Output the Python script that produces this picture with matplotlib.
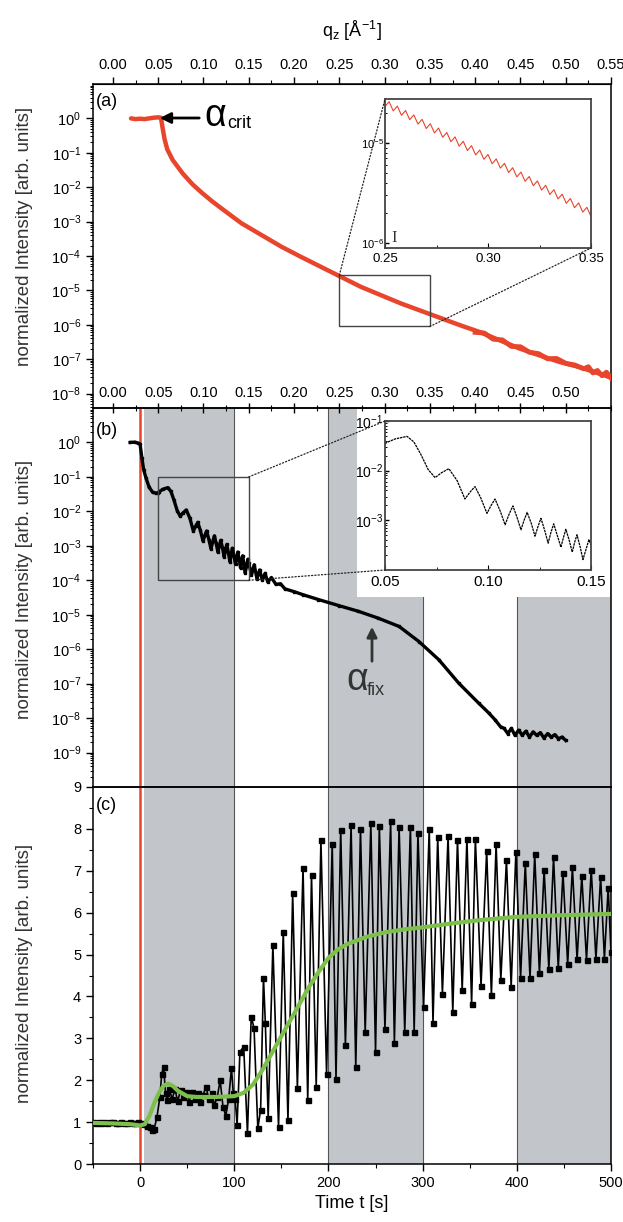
import numpy as np
import matplotlib
matplotlib.use("Agg")
import matplotlib.pyplot as plt
from matplotlib.patches import Rectangle, ConnectionPatch
from matplotlib.ticker import MultipleLocator, LogLocator, NullFormatter, FixedLocator, FixedFormatter

plt.rcParams['font.family'] = ['Liberation Sans', 'DejaVu Sans']
plt.rcParams['mathtext.fontset'] = 'custom'
plt.rcParams['mathtext.rm'] = 'Liberation Sans'
plt.rcParams['mathtext.it'] = 'Liberation Sans:italic'
plt.rcParams['mathtext.default'] = 'regular'

# ---------------- data ----------------
# panel (a): reflectivity vs q_z (log10 of normalized intensity)
qa = [0.020, 0.025, 0.030, 0.035, 0.040, 0.045, 0.050, 0.053, 0.055, 0.057, 0.060, 0.066,
      0.077, 0.088, 0.099, 0.110, 0.120, 0.142, 0.164, 0.186, 0.208, 0.230, 0.252, 0.274,
      0.296, 0.318, 0.350, 0.383, 0.405, 0.427, 0.449, 0.471, 0.493, 0.515, 0.537, 0.548]
la = [0.0, -0.02, -0.01, -0.02, 0.0, 0.02, 0.03, 0.02, -0.30, -0.60, -0.90, -1.21,
      -1.60, -1.92, -2.18, -2.42, -2.62, -3.05, -3.39, -3.73, -4.03, -4.32, -4.61, -4.90,
      -5.14, -5.38, -5.69, -6.01, -6.21, -6.45, -6.69, -6.89, -7.08, -7.23, -7.42, -7.52]
# noisy high-q tail of panel (a)
qa_tail = [0.40, 0.41, 0.42, 0.43, 0.44, 0.45, 0.46, 0.47, 0.48, 0.49, 0.50, 0.51, 0.52,
           0.525, 0.53, 0.535, 0.54, 0.545, 0.55]
la_tail = [-6.22, -6.24, -6.42, -6.44, -6.63, -6.64, -6.80, -6.84, -6.99, -6.98, -7.12,
           -7.17, -7.28, -7.22, -7.40, -7.33, -7.48, -7.38, -7.55]

# panel (a) inset: zig-zag between q = 0.25 and 0.35
qa_ins = [0.250, 0.252, 0.254, 0.256, 0.258, 0.260, 0.262, 0.264, 0.266, 0.268, 0.270,
          0.272, 0.274, 0.276, 0.278, 0.280, 0.282, 0.284, 0.286, 0.288, 0.290, 0.292,
          0.294, 0.296, 0.298, 0.300, 0.302, 0.304, 0.306, 0.308, 0.310, 0.312, 0.314,
          0.316, 0.318, 0.320, 0.322, 0.324, 0.326, 0.328, 0.330, 0.332, 0.334, 0.336,
          0.338, 0.340, 0.342, 0.344, 0.346, 0.348, 0.350]
la_ins = [-4.635, -4.587, -4.679, -4.631, -4.723, -4.675, -4.767, -4.719, -4.811, -4.763,
          -4.855, -4.807, -4.899, -4.851, -4.943, -4.895, -4.987, -4.939, -5.031, -4.983,
          -5.075, -5.027, -5.119, -5.071, -5.163, -5.115, -5.207, -5.159, -5.251, -5.203,
          -5.295, -5.247, -5.339, -5.291, -5.383, -5.335, -5.427, -5.379, -5.471, -5.423,
          -5.515, -5.467, -5.559, -5.511, -5.603, -5.555, -5.647, -5.599, -5.691, -5.643,
          -5.735]

# panel (b): reflectivity vs q_z
qb_low = [0.019, 0.024, 0.028, 0.030, 0.032, 0.034, 0.0365, 0.040, 0.044, 0.048]
lb_low = [0.0, 0.01, -0.02, -0.05, -0.45, -0.80, -1.03, -1.30, -1.45, -1.47]
qb_fr = [0.050, 0.051, 0.055, 0.0607, 0.064, 0.0675, 0.071, 0.0743, 0.0775, 0.081, 0.085,
         0.0888, 0.0915, 0.0937, 0.0965, 0.0995, 0.1015, 0.1034, 0.106, 0.1083, 0.1103,
         0.1121, 0.114, 0.116, 0.1175, 0.119, 0.121, 0.1228, 0.1243, 0.1257, 0.1275, 0.1292,
         0.1305, 0.1319, 0.1336, 0.1354, 0.1366, 0.1378, 0.1394, 0.1409, 0.142, 0.1432,
         0.1447, 0.1461, 0.1476, 0.149, 0.150]
lb_fr = [-1.46, -1.43, -1.36, -1.31, -1.42, -1.68, -1.98, -2.14, -2.04, -1.96, -2.20,
         -2.57, -2.42, -2.32, -2.55, -2.86, -2.70, -2.57, -2.82, -3.09, -2.87,
         -2.71, -2.93, -3.19, -3.00, -2.84, -3.06, -3.32, -3.12, -2.96, -3.20, -3.46,
         -3.25, -3.07, -3.30, -3.54, -3.35, -3.18, -3.40, -3.64, -3.45, -3.29,
         -3.53, -3.79, -3.58, -3.39, -3.50]
qb_high = [0.153, 0.156, 0.159, 0.162, 0.165, 0.168, 0.171, 0.175, 0.180, 0.185, 0.190,
           0.200, 0.210, 0.227, 0.250, 0.271, 0.293, 0.316, 0.338, 0.360, 0.382, 0.404,
           0.415, 0.422, 0.428, 0.432, 0.436, 0.440, 0.444, 0.448, 0.452, 0.456, 0.460,
           0.464, 0.468, 0.472, 0.476, 0.480, 0.484, 0.488, 0.492, 0.496, 0.500]
lb_high = [-3.85, -3.55, -3.95, -3.70, -4.00, -3.80, -4.05, -3.92, -4.12, -4.10, -4.25,
           -4.33, -4.42, -4.56, -4.74, -4.90, -5.10, -5.34, -5.78, -6.31, -6.99, -7.57,
           -7.85, -8.05, -8.25, -8.30, -8.45, -8.30, -8.50, -8.35, -8.50, -8.38, -8.55,
           -8.40, -8.50, -8.42, -8.58, -8.45, -8.55, -8.48, -8.60, -8.55, -8.65]

# panel (c): intensity at fixed angle vs time
t_before = [-50, -47, -44, -41, -38, -35, -32, -29, -26, -23, -20, -17, -14, -11, -8, -5, -2]
v_before = [1.00, 0.99, 1.01, 0.98, 1.00, 0.99, 1.00, 1.01, 0.98, 0.99, 1.00, 0.98, 0.99,
            1.00, 0.97, 0.99, 1.00]
t_start = [1, 4, 7, 10, 13, 15, 18, 21, 23, 25, 27, 29, 31, 34, 37, 40, 43, 46, 49, 52, 55,
           58, 61, 64, 67, 70, 73, 76, 79, 82, 85, 88, 91, 94, 97, 99, 101]
v_start = [0.98, 0.95, 0.90, 0.88, 0.80, 0.84, 1.13, 1.60, 2.16, 2.31, 1.69, 1.53, 1.80,
           1.55, 1.78, 1.50, 1.77, 1.60, 1.72, 1.49, 1.73, 1.55, 1.70, 1.49, 1.65, 1.85,
           1.55, 1.70, 1.41, 1.60, 2.00, 1.37, 1.15, 1.55, 2.28, 1.69, 1.54]
t_osc = [103, 106, 110, 114, 118, 121, 125, 128, 131, 133, 136, 141, 147, 152, 157, 162, 167,
         173, 178, 182, 187, 192, 198, 204, 208, 213, 218, 224, 229, 234, 239, 245, 250, 254,
         260, 266, 270, 275, 281, 287, 291, 295, 301, 307, 311, 316, 321, 327, 332, 337, 342,
         347, 352, 356, 362, 368, 373, 378, 383, 389, 394, 399, 404, 409, 414, 419, 424, 429,
         434, 439, 444, 449, 454, 459, 464, 469, 474, 479, 484, 489, 493, 497, 500]
v_osc = [0.93, 2.68, 2.80, 0.73, 3.52, 3.24, 0.85, 1.30, 4.45, 3.36, 1.11, 5.23, 0.88, 5.55,
         1.05, 6.46, 1.82, 7.06, 1.53, 6.90, 1.85, 7.73, 2.16, 7.64, 2.04, 7.97, 2.84, 8.09,
         2.32, 8.00, 3.14, 8.13, 2.68, 8.07, 3.22, 8.18, 2.90, 8.05, 3.16, 8.05, 3.16, 7.90,
         3.75, 8.00, 3.37, 7.80, 4.07, 7.83, 3.62, 7.73, 4.15, 7.77, 3.83, 7.76, 4.26, 7.48,
         4.03, 7.64, 4.39, 7.26, 4.23, 7.45, 4.45, 7.18, 4.43, 7.40, 4.55, 7.03, 4.65, 7.32,
         4.67, 6.95, 4.77, 7.08, 4.89, 6.87, 4.88, 7.03, 4.90, 6.85, 4.90, 6.60, 5.06]
t_fit = [-50, -30, -10, 0, 5, 10, 15, 20, 25, 30, 35, 40, 50, 60, 80, 100, 110, 120, 130,
         140, 150, 160, 170, 180, 190, 200, 210, 220, 240, 260, 280, 300, 330, 360, 400,
         450, 500]
v_fit = [0.98, 0.97, 0.95, 0.92, 0.95, 1.15, 1.45, 1.70, 1.87, 1.92, 1.86, 1.75, 1.62, 1.60,
         1.60, 1.62, 1.70, 1.90, 2.25, 2.65, 3.05, 3.45, 3.85, 4.25, 4.60, 4.92, 5.12, 5.25,
         5.42, 5.53, 5.60, 5.65, 5.74, 5.82, 5.90, 5.94, 5.97]

bands = [(4, 100), (200, 300), (400, 500)]
band_lines = [100, 200, 300, 400, 500]
q_ticks = [0.00, 0.05, 0.10, 0.15, 0.20, 0.25, 0.30, 0.35, 0.40, 0.45, 0.50, 0.55]

# ---------------- layout ----------------
W, H = 623, 1222
fig = plt.figure(figsize=(W / 100, H / 100), dpi=100)

def box(l, t, r, b):
    return [l / W, 1 - b / H, (r - l) / W, (b - t) / H]

L, R = 93, 611
YA0, YAB, YBC, YC1 = 84, 408, 787, 1164
QMIN, QMAX = -0.022, 0.55
RED = '#e8452c'
GRAY = '#c2c6ca'
GREEN = '#7cbf4a'
TS = 10.5

# background axes for time bands spanning (b) and (c)
ax_bg = fig.add_axes(box(L, YAB, R, YC1))
ax_bg.set_xlim(-50, 500)
ax_bg.set_ylim(0, 1)
ax_bg.axis('off')
for s, e in bands:
    ax_bg.axvspan(s, e, color=GRAY, lw=0, zorder=1)
for x in band_lines:
    ax_bg.axvline(x, color='#555555', lw=0.8, zorder=2)
ax_bg.axvline(0, color=RED, lw=1.8, zorder=3)
ax_bg.add_patch(Rectangle((357 / W, 1 - 597 / H), (610 - 357) / W, (597 - 409) / H,
                          transform=fig.transFigure, facecolor='white', edgecolor='none',
                          zorder=5))

def log_y(ax, lo, hi, labeled):
    ax.set_yscale('log')
    ax.set_ylim(lo, hi)
    ax.yaxis.set_major_locator(FixedLocator([10.0 ** k for k in labeled]))
    ax.yaxis.set_minor_locator(LogLocator(base=10, subs=np.arange(2, 10), numticks=50))
    ax.yaxis.set_minor_formatter(NullFormatter())
    ax.tick_params(axis='y', which='major', direction='out', length=5, width=1, labelsize=TS)
    ax.tick_params(axis='y', which='minor', direction='out', length=2.5, width=0.7)

# ---------------- panel (a) ----------------
ax_a = fig.add_axes(box(L, YA0, R, YAB))
ax_a.set_xlim(QMIN, QMAX)
log_y(ax_a, 10 ** -8.42, 10 ** 1, range(0, -9, -1))
ax_a.plot(qa, 10 ** np.array(la), color=RED, lw=3.2, solid_capstyle='round', zorder=3)
ax_a.plot(qa_tail, 10 ** np.array(la_tail), color=RED, lw=3.5, zorder=3)
ax_a.xaxis.set_major_locator(FixedLocator(q_ticks[:-1]))
ax_a.xaxis.set_major_formatter(FixedFormatter([f'{v:.2f}' for v in q_ticks[:-1]]))
ax_a.xaxis.set_minor_locator(MultipleLocator(0.025))
ax_a.tick_params(axis='x', which='major', direction='inout', length=7, width=1,
                 labelsize=TS, pad=-19)
ax_a.tick_params(axis='x', which='minor', direction='inout', length=4, width=0.8)
sec = ax_a.secondary_xaxis('top')
sec.xaxis.set_major_locator(FixedLocator(q_ticks))
sec.xaxis.set_major_formatter(FixedFormatter([f'{v:.2f}' for v in q_ticks]))
sec.xaxis.set_minor_locator(MultipleLocator(0.025))
sec.tick_params(axis='x', which='major', direction='out', length=5, width=1, labelsize=TS)
sec.tick_params(axis='x', which='minor', direction='out', length=3, width=0.8)
sec.set_xlabel(r'q$_z$ [Å$^{-1}$]', fontsize=13, labelpad=15)
ax_a.text(0.005, 0.945, '(a)', transform=ax_a.transAxes, fontsize=13, va='center')
ax_a.annotate('', xy=(157 / W, 1 - 118 / H), xytext=(202 / W, 1 - 118 / H),
              xycoords='figure fraction', textcoords='figure fraction',
              arrowprops=dict(arrowstyle='-|>', color='black', lw=2, mutation_scale=16))
fig.text(215 / W, 1 - 116 / H, 'α', fontsize=27, ha='center', va='center')
fig.text(227 / W, 1 - 123 / H, 'crit', fontsize=13, ha='left', va='center')

# inset (a)
ax_ia = fig.add_axes(box(385, 99, 591, 248))
ax_ia.set_xlim(0.25, 0.35)
log_y(ax_ia, 10 ** -6.05, 10 ** -4.56, [-5, -6])
ax_ia.plot(qa_ins, 10 ** np.array(la_ins), color=RED, lw=0.8)
ax_ia.xaxis.set_major_locator(FixedLocator([0.25, 0.30, 0.35]))
ax_ia.xaxis.set_major_formatter(FixedFormatter(['0.25', '0.30', '0.35']))
ax_ia.xaxis.set_minor_locator(MultipleLocator(0.025))
ax_ia.tick_params(which='both', direction='in', labelsize=9.5)
ax_ia.tick_params(axis='y', which='major', length=3, labelsize=8, pad=1)
ax_ia.tick_params(axis='y', which='minor', length=1.5)
for sp in ax_ia.spines.values():
    sp.set_color('#444444'); sp.set_linewidth(1.3)
ax_ia.text(0.253, 10 ** -5.95, 'I', family='Liberation Serif', fontsize=12,
           ha='left', va='center', color='#333333')
ax_a.add_patch(Rectangle((0.25, 10 ** -6.05), 0.10, 10 ** -4.56 - 10 ** -6.05, fill=False,
                         edgecolor='#444444', lw=1, zorder=4))
for xa_, ya_, xb_, yb_ in [(0.25, 10 ** -4.56, 0, 1), (0.35, 10 ** -6.05, 1, 0)]:
    fig.add_artist(ConnectionPatch(xyA=(xa_, ya_), coordsA='data', axesA=ax_a,
                                   xyB=(xb_, yb_), coordsB='axes fraction', axesB=ax_ia,
                                   ls=':', lw=0.9, color='#222222'))

# ---------------- panel (b) ----------------
ax_b = fig.add_axes(box(L, YAB, R, YBC), facecolor='none')
ax_b.set_xlim(QMIN, QMAX)
log_y(ax_b, 1e-10, 1e1, range(0, -10, -1))
qb = qb_low + qb_fr + qb_high
lb = lb_low + lb_fr + lb_high
ax_b.plot(qb, 10 ** np.array(lb), color='black', lw=2.4, marker='s', ms=1.6, zorder=3)
ax_b.tick_params(axis='x', which='both', bottom=False, top=False, labelbottom=False)
ax_b.text(0.005, 0.94, '(b)', transform=ax_b.transAxes, fontsize=13, va='center')
ax_b.add_patch(Rectangle((0.05, 1e-4), 0.10, 1e-1 - 1e-4, fill=False,
                         edgecolor='#444444', lw=1, zorder=4))
ax_b.annotate('', xy=(372 / W, 1 - 624 / H), xytext=(372 / W, 1 - 664 / H),
              xycoords='figure fraction', textcoords='figure fraction',
              arrowprops=dict(arrowstyle='-|>', color='#333333', lw=2, mutation_scale=15))
fig.text(357 / W, 1 - 680 / H, 'α', fontsize=27, ha='center', va='center', color='#333333')
fig.text(367 / W, 1 - 691 / H, 'fix', fontsize=13, ha='left', va='center', color='#333333')

# inset (b)
ax_ib = fig.add_axes(box(385, 421, 591, 570))
ax_ib.set_xlim(0.05, 0.15)
log_y(ax_ib, 1e-4, 1e-1, [-1, -2, -3])
ax_ib.plot(qb_fr, 10 ** np.array(lb_fr), color='black', lw=0.9, ls=(0, (2, 0.6)))
ax_ib.xaxis.set_major_locator(FixedLocator([0.05, 0.10, 0.15]))
ax_ib.xaxis.set_major_formatter(FixedFormatter(['0.05', '0.10', '0.15']))
ax_ib.xaxis.set_minor_locator(MultipleLocator(0.025))
ax_ib.tick_params(which='both', direction='in', labelsize=11)
ax_ib.tick_params(axis='y', which='major', length=3, labelsize=10, pad=1)
ax_ib.tick_params(axis='y', which='minor', length=1.5)
for sp in ax_ib.spines.values():
    sp.set_color('#444444'); sp.set_linewidth(1.3)
for xa_, ya_, xb_, yb_ in [(0.15, 1e-1, 0, 1), (0.15, 1e-4, 0, 0)]:
    fig.add_artist(ConnectionPatch(xyA=(xa_, ya_), coordsA='data', axesA=ax_b,
                                   xyB=(xb_, yb_), coordsB='axes fraction', axesB=ax_ib,
                                   ls=':', lw=0.9, color='#222222'))

# ---------------- panel (c) ----------------
ax_c = fig.add_axes(box(L, YBC, R, YC1), facecolor='none')
ax_c.set_xlim(-50, 500)
ax_c.set_ylim(0, 9)
tc = t_before + t_start + t_osc
vc = v_before + v_start + v_osc
ax_c.plot(tc, vc, color='black', lw=1.2, marker='s', ms=3.6, zorder=3)
ax_c.plot(t_fit, v_fit, color=GREEN, lw=3, zorder=4)
ax_c.xaxis.set_major_locator(FixedLocator([0, 100, 200, 300, 400, 500]))
ax_c.xaxis.set_minor_locator(MultipleLocator(50))
ax_c.yaxis.set_major_locator(MultipleLocator(1))
ax_c.yaxis.set_minor_locator(MultipleLocator(0.5))
ax_c.tick_params(which='major', direction='out', length=5, width=1, labelsize=TS)
ax_c.tick_params(which='minor', direction='out', length=3, width=0.8)
ax_c.set_xlabel('Time t [s]', fontsize=13, labelpad=4)
ax_c.text(0.005, 0.95, '(c)', transform=ax_c.transAxes, fontsize=13, va='center')

for ax in (ax_a, ax_b, ax_c):
    for sp in ax.spines.values():
        sp.set_linewidth(1.1)

for yc in (236, 589, 973):
    fig.text(25 / W, 1 - yc / H, 'normalized Intensity [arb. units]', rotation=90,
             fontsize=13.5, ha='center', va='center', color='#333333')

fig.savefig('out.png', dpi=100)
